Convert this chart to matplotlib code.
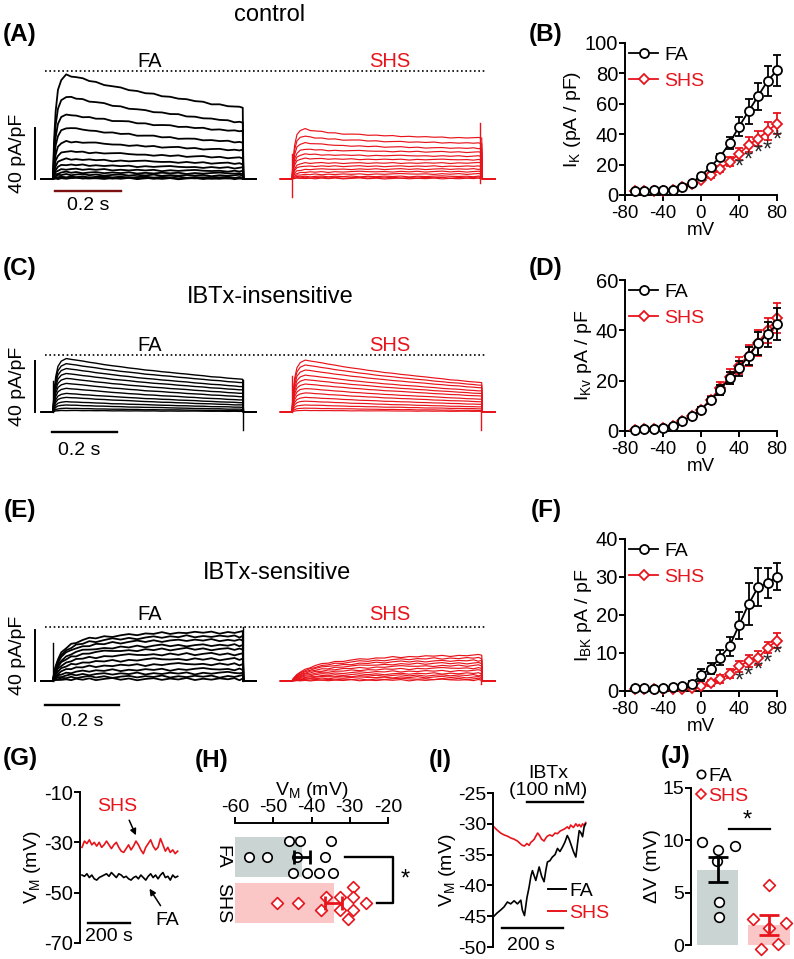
import numpy as np
import matplotlib.pyplot as plt
from matplotlib.lines import Line2D

plt.rcParams['font.family'] = ['Liberation Sans', 'DejaVu Sans']
plt.rcParams['mathtext.default'] = 'regular'
plt.rcParams['axes.unicode_minus'] = False
plt.rcParams['axes.linewidth'] = 1.4
plt.rcParams['xtick.major.width'] = 1.4
plt.rcParams['ytick.major.width'] = 1.4
plt.rcParams['xtick.major.size'] = 4
plt.rcParams['ytick.major.size'] = 4
plt.rcParams['font.size'] = 13

RED = '#e8141c'
W, H = 794, 959

# ---------------- data: current traces (pA/pF), one value per sweep ----------------
t_tpl = [0, 0.003, 0.008, 0.015, 0.025, 0.04, 0.055, 0.07, 0.09, 0.11, 0.13, 0.155, 0.18, 0.205, 0.23,
         0.255, 0.28, 0.305, 0.33, 0.355, 0.38, 0.405, 0.43, 0.455, 0.48, 0.505, 0.53, 0.55, 0.565, 0.575]
wiggle = [0, 0.3, -0.4, 0.5, -0.2, 0.6, -0.5, 0.2, 0.7, -0.3, 0.4, -0.6, 0.1, 0.5, -0.4,
          0.3, -0.2, 0.6, -0.5, 0.2, -0.3, 0.4, -0.1, 0.5, -0.6, 0.3, -0.2, 0.4, 0.8, 0.2]

rise_fast = [0, 0.35, 0.65, 0.85, 0.95, 1, 1, 1, 1, 1, 1, 1, 1, 1, 1, 1, 1, 1, 1, 1, 1, 1, 1, 1, 1, 1, 1, 1, 1, 1]
decay_slow = [1, 1, 1, 1, 1, 0.99, 0.96, 0.92, 0.87, 0.82, 0.77, 0.71, 0.65, 0.6, 0.55,
              0.5, 0.45, 0.41, 0.37, 0.33, 0.29, 0.25, 0.21, 0.17, 0.13, 0.1, 0.06, 0.03, 0.01, 0]
decay_early = [1, 1, 1, 0.97, 0.9, 0.8, 0.7, 0.62, 0.55, 0.49, 0.44, 0.39, 0.35, 0.31, 0.28,
               0.25, 0.22, 0.19, 0.17, 0.15, 0.13, 0.11, 0.09, 0.07, 0.06, 0.04, 0.03, 0.02, 0.01, 0]
rise_act_fa = [0, 0.15, 0.3, 0.45, 0.58, 0.68, 0.75, 0.8, 0.84, 0.87, 0.89, 0.91, 0.93, 0.94, 0.95,
               0.96, 0.97, 0.98, 0.985, 0.99, 0.99, 1, 1, 1, 1, 1, 1, 1, 1, 1]
rise_act_shs = [0, 0.08, 0.16, 0.25, 0.35, 0.45, 0.53, 0.6, 0.66, 0.71, 0.75, 0.79, 0.82, 0.85, 0.87,
                0.89, 0.91, 0.93, 0.94, 0.95, 0.96, 0.97, 0.98, 0.98, 0.99, 0.99, 1, 1, 1, 1]

a_fa_peak = [81.8, 64.8, 50.5, 40, 29.5, 21.7, 15.7, 11.2, 7.8, 5.2, 3.4, 1.6, 0.8, 0.4]
a_fa_end = [55.7, 44.4, 37.4, 28.8, 22.5, 16.5, 12, 8.6, 6, 4.2, 2.6, 1.3, 0.6, 0.3]
a_shs_peak = [41, 35, 29.5, 24, 20, 16.5, 12.5, 10, 7.3, 5.2, 3.4, 2, 1, 0.4]
a_shs_end = [32, 28, 24, 21, 17.8, 15, 12.5, 10, 7.8, 5.8, 3.9, 2, 1, 0.4]

c_fa_peak = [42, 38, 34.2, 30.3, 26.4, 22.5, 18.6, 14.6, 11.5, 8.1, 5.5, 2.9, 1.2]
c_fa_end = [25.6, 23, 19.9, 17.3, 14.6, 12, 9.4, 7.3, 5.5, 3.7, 2.1, 1, 0.5]
c_shs_peak = [40.8, 37, 33, 29, 25.5, 22, 18.5, 15, 11.5, 8.5, 5.5, 3, 1.2]
c_shs_end = [23, 21, 19, 16.5, 14.5, 12.5, 10, 8, 6, 4, 2.5, 1.2, 0.5]

e_fa_end = [38, 35, 32, 28, 25, 21, 17, 13, 9, 6, 3.5, 1.5]
e_shs_end = [20, 18, 16, 14, 12, 10, 8, 6, 4.5, 3, 1.5, 0.7]

# ---------------- data: I-V curves ----------------
mv = [-70, -60, -50, -40, -30, -20, -10, 0, 10, 20, 30, 40, 50, 60, 70, 80]
b_fa = [2.5, 2.5, 3, 3, 3.5, 5.5, 8, 12.5, 18.5, 25, 34, 45, 55, 65, 75, 82]
b_fa_err = [0.5, 0.5, 0.5, 0.5, 0.5, 0.8, 1, 1.5, 1.5, 2, 4, 6, 8, 9, 10, 10]
b_shs = [2.5, 2.5, 2.5, 2.5, 3, 5, 7, 10, 13, 17, 22, 27, 33, 37, 42, 47]
b_shs_err = [0.5, 0.5, 0.5, 0.5, 0.5, 0.8, 1, 1, 1.5, 2, 3, 4, 5, 5, 6, 7]
b_star = [18, 23, 27, 29.5, 36]

d_fa = [0.5, 0.6, 0.8, 1.3, 2, 4, 5.8, 8.5, 12.2, 16.2, 21, 25, 29.7, 34.8, 38.5, 42.5]
d_fa_err = [0.2, 0.2, 0.2, 0.3, 0.4, 0.5, 0.8, 1, 1.5, 2, 2.5, 3, 3.5, 4.5, 5, 6.5]
d_shs = [0.5, 0.6, 0.8, 1.3, 2, 4, 5.8, 8.5, 12.5, 17, 21.5, 26, 30, 35, 40, 45]
d_shs_err = [0.2, 0.2, 0.2, 0.3, 0.4, 0.5, 0.8, 1, 1.5, 2.5, 3, 3.5, 4, 5, 5, 6]

f_fa = [0.8, 0.8, 0.6, 0.7, 1, 1.3, 1.8, 4.2, 5.9, 8.8, 11.8, 17.3, 22.8, 27.3, 28.4, 30.1]
f_fa_err = [0.3, 0.3, 0.3, 0.3, 0.3, 0.5, 0.8, 1.5, 1.5, 2, 2.5, 3.5, 5.5, 5, 4, 3.5]
f_shs = [0.5, 0.5, 0.5, 0.5, 0.5, 0.6, 0.8, 1.2, 2, 3.1, 4.5, 6.5, 7.9, 8.6, 11.4, 13.2]
f_shs_err = [0.2, 0.2, 0.2, 0.2, 0.2, 0.3, 0.4, 0.5, 0.8, 1, 1.2, 1.5, 1.5, 1.8, 1.5, 2]
f_star = [2.5, 3.8, 5.3, 7.2, 9.7]
star_mv = [40, 50, 60, 70, 80]

# ---------------- data: membrane potential ----------------
g_shs = [-32, -29.5, -30.5, -29, -31, -30, -31.5, -30, -32, -31, -29.5, -31, -32.5, -31, -30, -32, -33.5, -34, -32.5, -31,
         -33, -31.5, -29.5, -31, -33, -34.5, -32, -30.5, -29, -31.5, -33, -32, -28.5, -31, -33.5, -32, -34, -33, -34.5, -33.5]
g_fa = [-43, -43.5, -42.5, -44, -43, -44.5, -45, -44, -43.5, -43, -42.5, -43.5, -42, -43, -44, -42.5, -43, -44, -43.5, -44.5,
        -45, -44, -43.5, -44.5, -43, -44, -45, -43.5, -42.5, -44, -43, -44.5, -43, -42, -44, -43.5, -45, -43, -44, -43.5]

h_fa_x = [-56.3, -51.6, -45.9, -43, -35, -43.8, -36.5, -44.8, -41.2, -38, -34.4]
h_fa_row = [0, 0, -0.35, -0.35, -0.35, 0, 0, 0.35, 0.35, 0.35, 0.35]
h_shs_x = [-49.1, -43.5, -37.6, -36.1, -32.6, -32.5, -29.1, -29.1, -29.1, -25.8, -30.4]
h_shs_row = [0, 0, 0.15, -0.13, -0.13, 0.15, -0.35, -0.12, 0.15, 0, 0.36]
h_mean = [-42.5, -34.2]
h_sem = [2.2, 2.2]

i_t = [0, 10, 22, 33, 44, 55, 66, 77, 88, 93, 100, 108, 115, 121, 126, 132, 137, 143, 148, 156, 164,
       170, 175, 183, 191, 200, 208, 216, 224, 232, 240, 246, 251, 260, 268, 274, 279, 285, 290, 295, 300]
i_fa = [-45, -44.5, -44, -43.5, -42.7, -43, -42.5, -43, -42.4, -44, -44.9, -42, -40.3, -38.5, -37.6, -38.5, -39.2, -38, -37,
        -38.5, -39.4, -37.5, -36.2, -36, -35.4, -35, -34, -34.5, -33.8, -33, -31.9, -32.5, -33.2, -34.5, -35.4, -33, -31.1,
        -31.5, -32.1, -30.5, -30]
i_shs = [-30.5, -31, -31.5, -31.8, -32, -32.3, -32.5, -32.8, -33.3, -33.5, -33.6, -33.2, -33.5, -33, -32.8, -32.5, -32,
         -31.5, -31.8, -32.5, -32.8, -32.3, -32, -31.8, -32, -31.5, -31.6, -31.2, -31, -30.8, -30.5, -30.8, -30.2, -30.6,
         -30, -30.4, -30.1, -30.5, -30, -30.3, -29.8]

j_fa = [9.8, 9.1, 9.5, 8.0, 4.1, 2.7]
j_fa_dx = [-0.3, 0.01, 0.34, -0.01, 0.03, 0.03]
j_shs = [5.7, 2.45, 2.1, 1.6, -0.4, 0.1]
j_shs_dx = [0, -0.31, 0.33, 0, -0.16, 0.17]
j_mean = [7.2, 1.9]
j_sem = [1.2, 0.95]

fig = plt.figure(figsize=(W / 100, H / 100), dpi=100)


def px_ax(x0, y0, x1, y1):
    return fig.add_axes([x0 / W, 1 - y1 / H, (x1 - x0) / W, (y1 - y0) / H])


def noclip(container):
    for art in container.get_children():
        art.set_clip_on(False)


# ---------------- trace rows (A, C, E) ----------------
PXS, PXI = 330.0, 51 / 40.0     # px per second, px per pA/pF
T_SHS = (292 - 53) / PXS


def sweep(peak, end, rise, decay, amp, k):
    r = np.array(rise)
    y = r * (end + (peak - end) * np.array(decay)) + amp * np.roll(wiggle, k) * r
    return [-0.035] + t_tpl + [0.577, 0.615], [0] + list(y) + [0, 0]


def trace_row(top, base, fa_sw, shs_sw, spikes, dot_y, lab_y, lw_fa=1.0):
    ax = px_ax(0, top, 500, top + 175)
    ax.set_xlim(-53 / PXS, (500 - 53) / PXS)
    ax.set_ylim((base - (top + 175)) / PXI, (base - top) / PXI)
    ax.axis('off')
    for t, y in fa_sw:
        ax.plot(t, y, color='k', lw=lw_fa)
    for t, y in shs_sw:
        ax.plot(np.array(t) + T_SHS, y, color=RED, lw=0.85)
    for x, lo, hi, c in spikes:
        ax.plot([x, x], [lo, hi], color=c, lw=1.0)
    ax.plot([-0.024, 1.31], [dot_y, dot_y], color='k', lw=1.2, ls=(0, (1, 1.6)))
    ax.text(0.294, lab_y, 'FA', ha='center', va='center', fontsize=14.5)
    ax.text(1.021, lab_y, 'SHS', ha='center', va='center', fontsize=14.5, color=RED)
    sx = -18 / PXS
    ax.plot([sx, sx], [0, 40], color='k', lw=1.4)
    ax.text(-35 / PXS, 20, '40 pA/pF', rotation=90, ha='center', va='center', fontsize=14)
    return ax


# A
fa_a = [sweep(p, e, rise_fast, decay_slow, 0.9, 3 * i) for i, (p, e) in enumerate(zip(a_fa_peak, a_fa_end))]
shs_a = [sweep(p, e, rise_fast, decay_early, 0.6, 5 * i) for i, (p, e) in enumerate(zip(a_shs_peak, a_shs_end))]
axA = trace_row(55, 179, fa_a, shs_a, [(T_SHS, -14, 20, RED), (T_SHS + 0.57, -3, 44, RED)], 84.7, 91.8, 1.3)
axA.plot([0.006, 0.206], [-9.4, -9.4], color='#7a1010', lw=1.7)
axA.text(0.106, -21, '0.2 s', ha='center', va='center', fontsize=14)

# C
fa_c = [sweep(p, e, rise_fast, decay_slow, 0.15, 2 * i) for i, (p, e) in enumerate(zip(c_fa_peak, c_fa_end))]
shs_c = [sweep(p, e, rise_fast, decay_slow, 0.15, 4 * i) for i, (p, e) in enumerate(zip(c_shs_peak, c_shs_end))]
axC = trace_row(290, 412, fa_c, shs_c,
                [(0, 0, 24, 'k'), (0.577, -14, 25, 'k'), (T_SHS, 0, 28, RED), (T_SHS + 0.572, -14, 0, RED)], 44.7, 52.5)
axC.plot([-0.003, 0.194], [-15.7, -15.7], color='k', lw=1.7)
axC.text(0.08, -30, '0.2 s', ha='center', va='center', fontsize=14)

# E
fa_e = [sweep(e, e, rise_act_fa, decay_slow, 1.5, 3 * i + 1) for i, e in enumerate(e_fa_end)]
shs_e = [sweep(e, e, rise_act_shs, decay_slow, 1.0, 5 * i) for i, e in enumerate(e_shs_end)]
axE = trace_row(560, 681, fa_e, shs_e,
                [(0, 0, 30, 'k'), (0.577, 0, 42, 'k'), (T_SHS + 0.572, -2, 10, RED)], 42.4, 51.8, 1.3)
axE.plot([-0.024, 0.2], [-18.8, -18.8], color='k', lw=1.7)
axE.text(0.088, -32, '0.2 s', ha='center', va='center', fontsize=14)

fig.text(270 / W, 1 - 15 / H, 'control', ha='center', va='center', fontsize=17)
fig.text(270 / W, 1 - 297 / H, 'IBTx-insensitive', ha='center', va='center', fontsize=17)
fig.text(277 / W, 1 - 573 / H, 'IBTx-sensitive', ha='center', va='center', fontsize=17)


# ---------------- I-V panels (B, D, F) ----------------
def iv_panel(y_top, y_zero, ymax, yticks, fa, fa_err, shs, shs_err, ylabel, stars=None):
    ax = px_ax(625, y_top, 777, y_zero)
    ax.set_xlim(-80, 80)
    ax.set_ylim(0, ymax)
    e2 = ax.errorbar(mv, shs, yerr=shs_err, color=RED, marker='D', ms=5, mfc='white', mew=1.3,
                     capsize=3, lw=1.3, elinewidth=1.3, zorder=3)
    e1 = ax.errorbar(mv, fa, yerr=fa_err, color='k', marker='o', ms=6.5, mfc='white', mew=1.3,
                     capsize=3, lw=1.3, elinewidth=1.3, zorder=4)
    noclip(e1)
    noclip(e2)
    if stars is not None:
        for x, y in zip(star_mv, stars):
            ax.text(x, y, '*', ha='center', va='center', fontsize=17, color='#2a2a2a')
    for s in ['top', 'right']:
        ax.spines[s].set_visible(False)
    ax.set_xticks([-80, -40, 0, 40, 80])
    ax.set_yticks(yticks)
    ax.tick_params(axis='x', labelsize=13.5, pad=3)
    ax.tick_params(axis='y', labelsize=14.5, pad=1)
    ax.set_xlabel('mV', fontsize=13.5, labelpad=0)
    ax.set_ylabel(ylabel, fontsize=14, labelpad=1)
    h1 = Line2D([], [], color='k', marker='o', ms=6.5, mfc='white', mew=1.3, lw=1.3)
    h2 = Line2D([], [], color=RED, marker='D', ms=5, mfc='white', mew=1.3, lw=1.3)
    ax.legend([h1, h2], ['FA', 'SHS'], loc='upper left', bbox_to_anchor=(629 / W, 1 - (y_top + 3) / H),
              bbox_transform=fig.transFigure, frameon=False, fontsize=14, handlelength=1.5,
              handletextpad=0.3, labelspacing=0.45, borderaxespad=0, borderpad=0, labelcolor=['k', RED])
    return ax


iv_panel(43, 195, 100, [0, 20, 40, 60, 80, 100], b_fa, b_fa_err, b_shs, b_shs_err, 'I$_K$ (pA / pF)', b_star)
iv_panel(280, 431, 60, [0, 20, 40, 60], d_fa, d_fa_err, d_shs, d_shs_err, 'I$_{Kv}$ pA / pF')
iv_panel(539, 691, 40, [0, 10, 20, 30, 40], f_fa, f_fa_err, f_shs, f_shs_err, 'I$_{BK}$ pA / pF', f_star)

# ---------------- G ----------------
axG = px_ax(80, 792, 185, 943)
axG.set_ylim(-70, -10)
axG.set_xlim(-9.5, 490)
tg = np.linspace(0, 455, len(g_fa))
axG.plot(tg, g_shs, color=RED, lw=1.2)
axG.plot(tg, g_fa, color='k', lw=1.2)
for s in ['top', 'right', 'bottom']:
    axG.spines[s].set_visible(False)
axG.set_xticks([])
axG.set_yticks([-10, -30, -50, -70])
axG.tick_params(labelsize=14.5, pad=1)
axG.set_ylabel('V$_M$ (mV)', fontsize=14, labelpad=1)
axG.text(167, -15.6, 'SHS', color=RED, ha='center', va='center', fontsize=14)
axG.text(405, -60.9, 'FA', ha='center', va='center', fontsize=14)
axG.annotate('', xy=(262, -28.2), xytext=(219, -20.2),
             arrowprops=dict(arrowstyle='-|>', color='k', lw=1.1, mutation_scale=9))
axG.annotate('', xy=(314, -47.5), xytext=(381, -56.1),
             arrowprops=dict(arrowstyle='-|>', color='k', lw=1.1, mutation_scale=9))
axG.plot([28.6, 228.6], [-62, -62], color='k', lw=1.7, clip_on=False)
axG.text(128.6, -67.4, '200 s', ha='center', va='center', fontsize=14, clip_on=False)

# ---------------- H ----------------
axH = px_ax(235, 823, 388, 930)
axH.set_xlim(-60, -20)
axH.set_ylim(1.59, -0.74)
axH.barh([0, 1], [h_mean[0] + 60, h_mean[1] + 60], left=-60, height=0.87, color=['#c9d4d3', '#fac6c6'])
axH.scatter(h_fa_x, h_fa_row, s=46, facecolors='white', edgecolors='k', linewidths=1.2, zorder=3)
axH.scatter(h_shs_x, [1 + r for r in h_shs_row], s=36, marker='D', facecolors='white', edgecolors=RED,
            linewidths=1.2, zorder=3, clip_on=False)
axH.errorbar(h_mean[0], 0, xerr=h_sem[0], color='k', lw=2, capsize=5, capthick=2, zorder=4)
axH.errorbar(h_mean[1], 1, xerr=h_sem[1], color=RED, lw=2, capsize=5, capthick=2, zorder=4)
axH.plot([-31.3, -18.7, -18.7, -22.9], [0, 0, 1, 1], color='k', lw=1.7, clip_on=False)
axH.text(-15.6, 0.5, '*', ha='center', va='center', fontsize=17, clip_on=False)
for s in ['bottom', 'right', 'left']:
    axH.spines[s].set_visible(False)
axH.xaxis.set_ticks_position('top')
axH.xaxis.set_label_position('top')
axH.set_xticks([-60, -50, -40, -30, -20])
axH.tick_params(axis='x', labelsize=14, pad=1)
axH.set_yticks([0, 1])
axH.set_yticklabels(['FA', 'SHS'], rotation=-90, va='center', fontsize=14)
axH.tick_params(axis='y', length=0, pad=3)
axH.set_xlabel('V$_M$ (mV)', fontsize=14, labelpad=3)

# ---------------- I ----------------
axI = px_ax(493, 793, 600, 947)
axI.set_ylim(-50, -25)
axI.set_xlim(-3, 347)
axI.plot(i_t, i_shs, color=RED, lw=1.2)
axI.plot(i_t, i_fa, color='k', lw=1.2)
for s in ['top', 'right', 'bottom']:
    axI.spines[s].set_visible(False)
axI.set_xticks([])
axI.set_yticks([-25, -30, -35, -40, -45, -50])
axI.tick_params(labelsize=14, pad=1)
axI.set_ylabel('V$_M$ (mV)', fontsize=14, labelpad=0)
axI.plot([108, 290], [-26.5, -26.5], color='k', lw=1.7, clip_on=False)
axI.text(177, -21.8, 'IBTx', ha='center', va='center', fontsize=14, clip_on=False)
axI.text(177, -24.6, '(100 nM)', ha='center', va='center', fontsize=14, clip_on=False)
axI.plot([26, 226], [-46.9, -46.9], color='k', lw=1.7, clip_on=False)
axI.text(121, -49.8, '200 s', ha='center', va='center', fontsize=14, clip_on=False)
axI.legend([Line2D([], [], color='k', lw=1.4), Line2D([], [], color=RED, lw=1.4)], ['FA', 'SHS'],
           loc='upper left', bbox_to_anchor=(548 / W, 1 - 882 / H), bbox_transform=fig.transFigure,
           frameon=False, fontsize=14, handlelength=0.9, handletextpad=0.2, labelspacing=0.25,
           borderaxespad=0, borderpad=0, labelcolor=['k', RED])

# ---------------- J ----------------
axJ = px_ax(691, 788, 794, 945)
axJ.set_ylim(0, 15)
axJ.set_xlim(-0.515, 1.485)
axJ.bar([0, 1], j_mean, width=0.8, color=['#c9d4d3', '#fac6c6'])
axJ.scatter(j_fa_dx, j_fa, s=48, facecolors='white', edgecolors='k', linewidths=1.2, zorder=3, clip_on=False)
axJ.scatter([1 + d for d in j_shs_dx], j_shs, s=36, marker='D', facecolors='white', edgecolors=RED,
            linewidths=1.2, zorder=3, clip_on=False)
axJ.errorbar(0, j_mean[0], yerr=j_sem[0], color='k', lw=2, capsize=7, capthick=2, zorder=4)
axJ.errorbar(1, j_mean[1], yerr=j_sem[1], color=RED, lw=2, capsize=7, capthick=2, zorder=4)
axJ.plot([0.22, 1.02], [11.1, 11.1], color='k', lw=1.6)
axJ.text(0.57, 11.9, '*', ha='center', va='center', fontsize=17)
for s in ['top', 'right', 'bottom']:
    axJ.spines[s].set_visible(False)
axJ.set_xticks([])
axJ.set_yticks([0, 5, 10, 15])
axJ.tick_params(labelsize=14, pad=1)
axJ.set_ylabel('ΔV (mV)', fontsize=14, labelpad=1)
axJ.legend([Line2D([], [], ls='none', marker='o', ms=6, mfc='white', mec='k', mew=1.2),
            Line2D([], [], ls='none', marker='D', ms=4.8, mfc='white', mec=RED, mew=1.2)], ['FA', 'SHS'],
           loc='upper left', bbox_to_anchor=(695 / W, 1 - 767 / H), bbox_transform=fig.transFigure,
           frameon=False, fontsize=14, handlelength=0.6, handletextpad=0.1, labelspacing=0.15,
           borderaxespad=0, borderpad=0, labelcolor=['k', RED])

# ---------------- panel labels ----------------
for lab, x, y in [('(A)', 20, 35), ('(B)', 546, 35), ('(C)', 20, 268), ('(D)', 546, 268), ('(E)', 20, 510),
                  ('(F)', 546, 510), ('(G)', 20, 758), ('(H)', 212, 760), ('(I)', 440, 760), ('(J)', 676, 757)]:
    fig.text(x / W, 1 - y / H, lab, ha='center', va='center', fontsize=17.5, fontweight='bold')

fig.savefig('out.png', dpi=100)
